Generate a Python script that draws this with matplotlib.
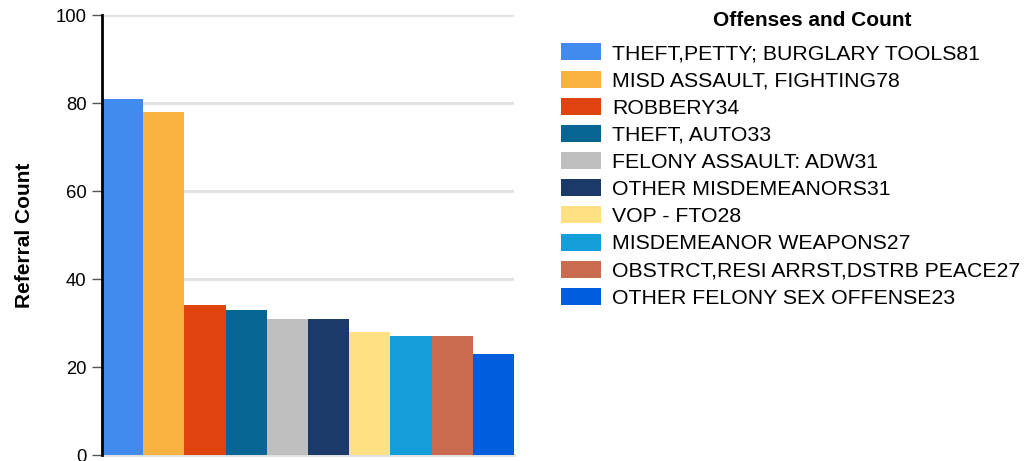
import matplotlib
matplotlib.use("Agg")
import matplotlib.pyplot as plt
from matplotlib.patches import Patch

plt.rcParams['font.family'] = ['Liberation Sans', 'DejaVu Sans']

offenses = ["THEFT,PETTY; BURGLARY TOOLS", "MISD ASSAULT, FIGHTING", "ROBBERY",
            "THEFT, AUTO", "FELONY ASSAULT: ADW", "OTHER MISDEMEANORS", "VOP - FTO",
            "MISDEMEANOR WEAPONS", "OBSTRCT,RESI ARRST,DSTRB PEACE", "OTHER FELONY SEX OFFENSE"]
counts = [81, 78, 34, 33, 31, 31, 28, 27, 27, 23]
colors = ["#418AEE", "#FAB340", "#E0440E", "#076593", "#BFBFBF", "#1B3A69",
          "#FFE083", "#139ED9", "#C96B4E", "#005DDB"]
yticks = [0, 20, 40, 60, 80, 100]

fig = plt.figure(figsize=(10.27, 4.61), dpi=100)
ax = fig.add_axes([102/1027, 1-455/461, (514-102)/1027, (455-15)/461])

x = list(range(len(counts)))
ax.bar(x, counts, width=1.0, color=colors, zorder=3)
ax.set_xlim(-0.5, len(counts) - 0.5)
ax.set_ylim(0, 100)
ax.set_yticks(yticks)
ax.set_yticklabels([str(t) for t in yticks], fontsize=13.3)
ax.set_xticks([])
ax.grid(axis='y', color='#E0E0E0', linewidth=2, zorder=0)
for s in ['top', 'right']:
    ax.spines[s].set_visible(False)
ax.spines['bottom'].set_color('#E0E0E0')
ax.spines['bottom'].set_linewidth(2)
ax.spines['left'].set_color('black')
ax.spines['left'].set_linewidth(2)
ax.spines['left'].set_zorder(5)
ax.tick_params(axis='y', length=7, width=1, color='#555555', pad=4)
ax.set_ylabel("Referral Count", fontsize=15, fontweight='bold', labelpad=15.5)

handles = [Patch(facecolor=c, edgecolor='none') for c in colors]
labels = [f"{o}{c}" for o, c in zip(offenses, counts)]
leg = fig.legend(handles, labels, loc='upper left', bbox_to_anchor=(561/1027, 1-43.5/461),
                 frameon=False, fontsize=15.3, handlelength=1.9, handleheight=0.85,
                 labelspacing=0.345, handletextpad=0.5, borderpad=0, borderaxespad=0)
fig.text(812/1027, 1-20/461, "Offenses and Count", ha='center', va='center',
         fontsize=15, fontweight='bold')

fig.savefig("out.png", dpi=100)
